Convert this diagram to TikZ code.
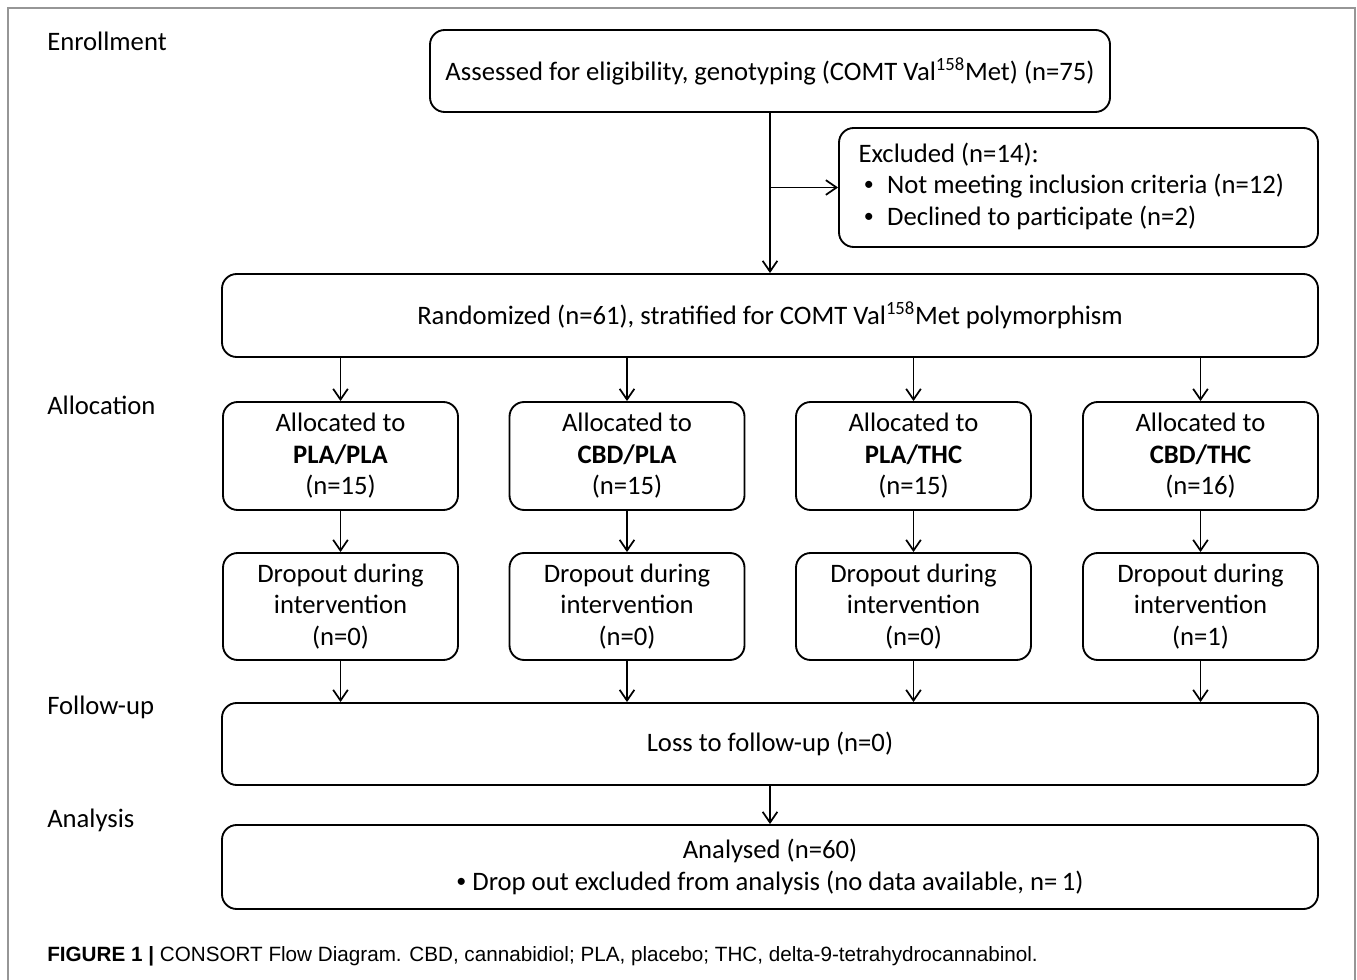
\documentclass[tikz,border=0pt]{standalone}
\usepackage{fontspec}
\setmainfont{Carlito}
\newfontfamily\capfont{Liberation Sans}
\usetikzlibrary{arrows.meta}

\newcommand{\smbullet}{\raisebox{0.12em}{\fontsize{15}{15}\selectfont\textbullet}}

\tikzset{
  box/.style={draw, line width=1.4pt, rounded corners=11pt, align=center, inner sep=0pt,
    font=\fontsize{20}{23.6}\selectfont},
  allocbox/.style={box, minimum width=176.25pt, minimum height=81pt},
  wide/.style={box, minimum width=822pt},
  stage/.style={anchor=west, inner sep=0pt, font=\fontsize{20}{23.6}\selectfont},
  arr/.style={line width=1.3pt, -{Straight Barb[length=8pt,width=11pt,line width=1.3pt]}},
}

\begin{document}
\begin{tikzpicture}[x=0.75pt,y=0.75pt,yscale=-1,xscale=1]
\useasboundingbox (0,0) rectangle (1357,980);

%Frame
\draw [color={rgb, 255:red, 150; green, 150; blue, 150 }, line width=1.2pt] (8,980) -- (8,8) -- (1355,8) -- (1355,980);

% Stage labels
\node [stage] (lenrol) at (47,41) {Enrollment};
\node [stage] (lalloc) at (47,405) {Allocation};
\node [stage] (lfollow) at (47,707) {Follow-up};
\node [stage] (lanal) at (47,820) {Analysis};

%Enrollment
\node [box, minimum width=510pt, minimum height=61.5pt] (assess) at (770,71) {Assessed for eligibility, genotyping (COMT Val\textsuperscript{158}Met) (n=75)};
\node [box, minimum width=359.25pt, minimum height=89.25pt] (excl) at (1078.5,187.5)
  {\makebox[330pt][l]{\begin{tabular}{@{}l@{}}
   Excluded (n=14):\\
   \hspace*{0.2em}\smbullet\hspace{0.5em}Not meeting inclusion criteria (n=12)\\
   \hspace*{0.2em}\smbullet\hspace{0.5em}Declined to participate (n=2)
   \end{tabular}}};
\node [wide, minimum height=62.25pt] (rand) at (770,315.5) {Randomized (n=61), stratified for COMT Val\textsuperscript{158}Met polymorphism};

%Allocation
\node [allocbox] (a1) at (340.5,456) {Allocated to\\\textbf{PLA/PLA}\\(n=15)};
\node [allocbox] (a2) at (627,456) {Allocated to\\\textbf{CBD/PLA}\\(n=15)};
\node [allocbox] (a3) at (913.5,456) {Allocated to\\\textbf{PLA/THC}\\(n=15)};
\node [allocbox] (a4) at (1200.5,456) {Allocated to\\\textbf{CBD/THC}\\(n=16)};

%Dropout
\node [allocbox, minimum height=80.25pt] (d1) at (340.5,606.5) {Dropout during\\intervention\\(n=0)};
\node [allocbox, minimum height=80.25pt] (d2) at (627,606.5) {Dropout during\\intervention\\(n=0)};
\node [allocbox, minimum height=80.25pt] (d3) at (913.5,606.5) {Dropout during\\intervention\\(n=0)};
\node [allocbox, minimum height=80.25pt] (d4) at (1200.5,606.5) {Dropout during\\intervention\\(n=1)};

%Follow-up and analysis
\node [wide, minimum height=61.5pt] (loss) at (770,744) {Loss to follow-up (n=0)};
\node [wide, minimum height=63pt] (anal) at (770,867) {Analysed (n=60)\\\smbullet\ Drop out excluded from analysis (no data available, n=\,1)};

%Connectors
\draw [arr] (assess.south) -- (rand.north);
\draw [arr] (assess.south |- excl.west) -- (excl.west);
\foreach \n in {1,2,3,4}{
  \draw [arr] (rand.south -| a\n.north) -- (a\n.north);
  \draw [arr] (a\n.south) -- (d\n.north);
  \draw [arr] (d\n.south) -- (d\n.south |- loss.north);
}
\draw [arr] (loss.south) -- (anal.north);

% Caption
\node [anchor=west, inner sep=0pt, font=\capfont\fontsize{15.5}{18}\selectfont] (cap) at (47,956)
  {\textbf{FIGURE 1 |} CONSORT Flow Diagram. CBD, cannabidiol; PLA, placebo; THC, delta-9-tetrahydrocannabinol.};

\end{tikzpicture}
\end{document}
